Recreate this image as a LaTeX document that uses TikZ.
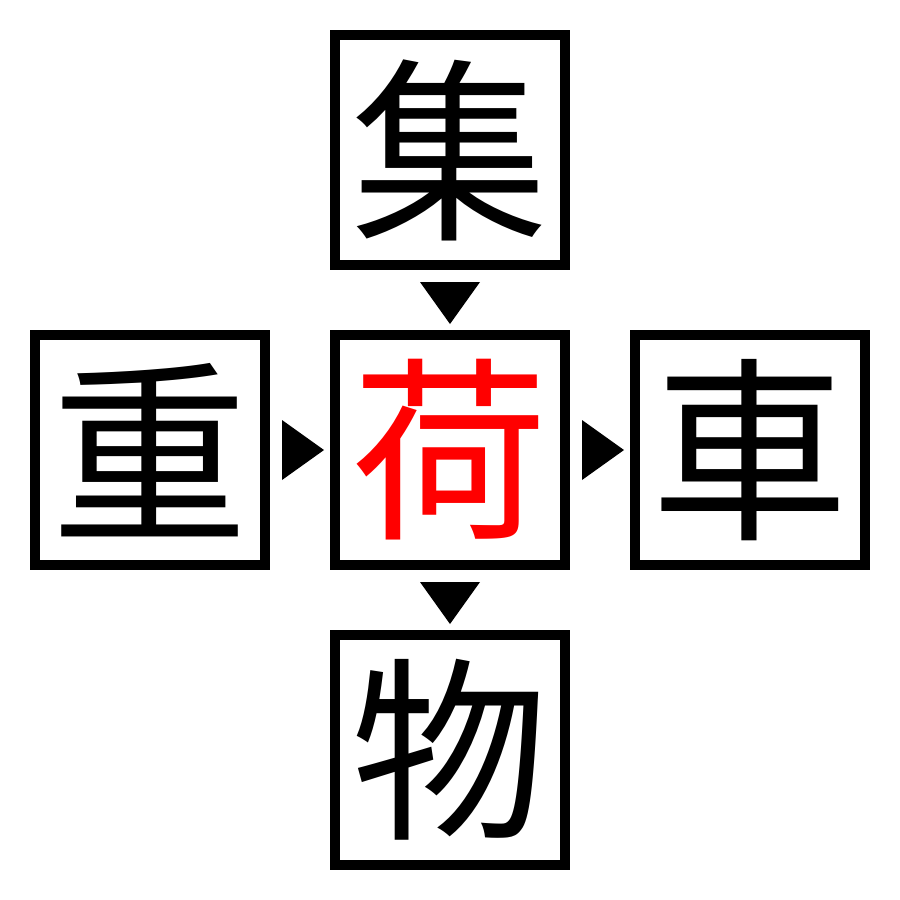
\documentclass[tikz,border=0pt]{standalone}
\usepackage{fontspec}
\newfontfamily\cjk{Noto Sans CJK JP}
\usetikzlibrary{calc}
\usetikzlibrary{positioning}

\tikzset{
    kanjibox/.style={draw,line width=0.1cm,inner sep=0,minimum size=2.3cm,outer sep=0,font=\cjk\fontsize{56}{56}\selectfont},
}

\begin{document}
\begin{tikzpicture}[outer sep=0]
        \useasboundingbox (0,0) rectangle (9,-9);
        % Boxes
        \node[kanjibox] (Center) at (4.5,-4.5) {\textcolor{red}{荷}};
        \node[kanjibox,above=0.7cm of Center] (Top) {集};
        \node[kanjibox,below=0.7cm of Center] (Bottom) {物};
        \node[kanjibox,left=0.7cm of Center] (Left) {重};
        \node[kanjibox,right=0.7cm of Center] (Right) {車};
        % Arrowheads
        \fill ($(Top.south)!0.5!(Center.north)+(-0.3,0.18)$) -- ++(0.6,0) -- ++(-0.3,-0.42) -- cycle;
        \fill ($(Center.south)!0.5!(Bottom.north)+(-0.3,0.18)$) -- ++(0.6,0) -- ++(-0.3,-0.42) -- cycle;
        \fill ($(Left.east)!0.5!(Center.west)+(-0.18,0.3)$) -- ++(0,-0.6) -- ++(0.42,0.3) -- cycle;
        \fill ($(Center.east)!0.5!(Right.west)+(-0.18,0.3)$) -- ++(0,-0.6) -- ++(0.42,0.3) -- cycle;
    \end{tikzpicture}
\end{document}
